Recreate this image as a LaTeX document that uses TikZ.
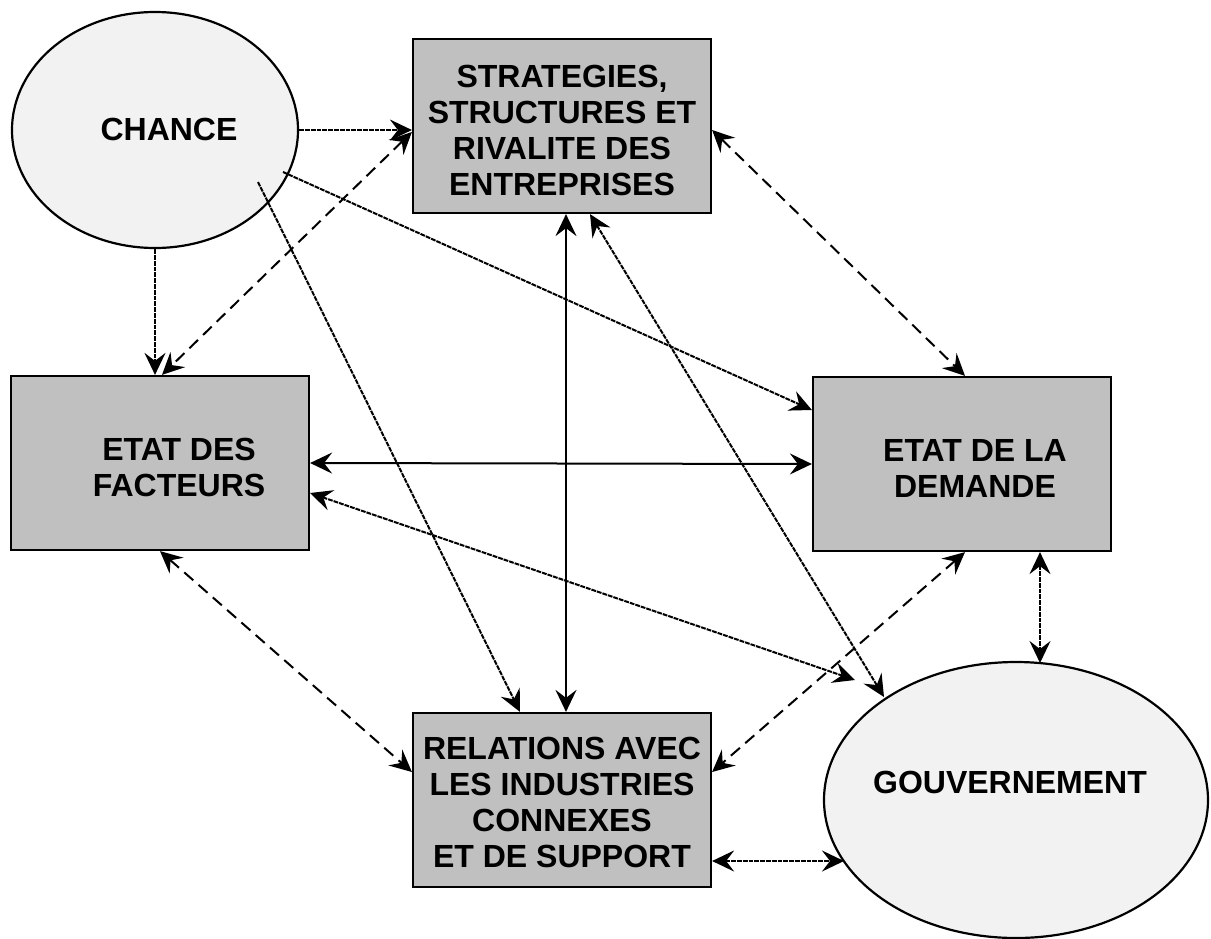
\documentclass[tikz,border=0pt]{standalone}
\usepackage{fontspec}
\setmainfont{Liberation Sans}
\usetikzlibrary{calc,arrows.meta,shapes.geometric}
\definecolor{boxgray}{HTML}{C0C0C0}
\definecolor{ellgray}{HTML}{F2F2F2}
\tikzset{
    >={Stealth[length=11pt,width=10.5pt,inset=4pt]},
    facteur/.style={
        rectangle,
        draw=black, line width=1.1pt,
        fill=boxgray,
        minimum width=149pt,
        minimum height=87pt,
        inner sep=0pt,
        align=center,
        font=\bfseries\fontsize{16}{18}\selectfont
    },
    hasard/.style={
        ellipse,
        draw=black, line width=1.1pt,
        fill=ellgray,
        inner sep=0pt
    },
    texte/.style={
        inner sep=0pt,
        align=center,
        font=\bfseries\fontsize{16}{18}\selectfont
    },
    lien/.style={draw, line width=1pt},
    plein/.style={lien, <->},
    tirets/.style={lien, <->, dash pattern=on 6pt off 3.5pt},
    fin/.style={lien, dash pattern=on 2.4pt off 0.5pt}
}
\begin{document}
\begin{tikzpicture}[x=0.5pt, y=-0.5pt]
    \useasboundingbox (0,0) rectangle (1211,938);

    \node[hasard, minimum width=143pt, minimum height=118pt] (chance) at (155,130) {};
    \node[texte] (chance texte) at (169,129) {CHANCE};
    \node[facteur] (strat) at (562,126) {};
    \node[texte] (strat texte) at (562,130) {STRATEGIES,\\STRUCTURES ET\\RIVALITE DES\\ENTREPRISES};
    \node[facteur] (fact) at (160,463) {};
    \node[texte] (fact texte) at (179,467) {ETAT DES\\FACTEURS};
    \node[facteur] (demande) at (962,464) {};
    \node[texte] (demande texte) at (975,468) {ETAT DE LA\\DEMANDE};
    \node[facteur] (relat) at (562,800) {};
    \node[texte] (relat texte) at (562,802) {RELATIONS AVEC\\LES INDUSTRIES\\CONNEXES\\ET DE SUPPORT};
    \node[hasard, minimum width=192pt, minimum height=138pt] (gouv) at (1016,800) {};
    \node[texte] (gouv texte) at (1010,782) {GOUVERNEMENT};

    \draw[fin, ->] (chance.east) -- (chance.east -| strat.west);
    \draw[fin, ->] (chance.south) -- (chance.south |- fact.north);
    \draw[fin, ->] ($(chance)+(128,42)$) -- ($(demande.west)+(0,-54)$);
    \draw[fin, ->] ($(chance)+(103,52)$) -- ($(relat.north)+(-42,0)$);

    \draw[tirets] ($(strat.west)+(0,6)$) -- ($(fact.north)+(2,0)$);
    \draw[tirets] ($(strat.east)+(0,4)$) -- ($(demande.north)+(3,0)$);
    \draw[plein] ($(strat.south)+(4,0)$) -- ($(relat.north)+(4,0)$);
    \draw[fin, <->] ($(strat.south)+(28,0)$) -- ($(gouv)+(-132,-103)$);

    \draw[plein] (fact.east) -- (demande.west);
    \draw[fin, <->] ($(fact.east)+(0,30)$) -- ($(gouv)+(-161,-120)$);
    \draw[tirets] (fact.south) -- ($(relat.west)+(0,-28)$);

    \draw[tirets] ($(demande.south)+(3,0)$) -- ($(relat.east)+(0,-28)$);
    \draw[fin, <->] ($(demande.south)+(78,0)$) -- ($(gouv)+(24,-137)$);

    \draw[fin, <->] ($(relat.east)+(0,61)$) -- ($(gouv)+(-172,61)$);
\end{tikzpicture}
\end{document}
